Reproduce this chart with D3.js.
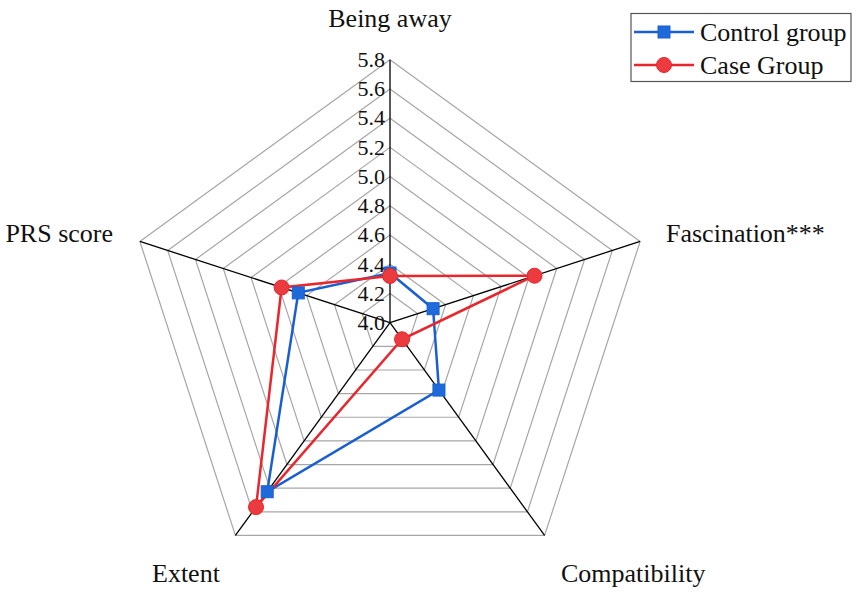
<!DOCTYPE html>
<html>
<head>
<meta charset="utf-8">
<script src="https://cdn.jsdelivr.net/npm/d3@7/dist/d3.min.js"></script>
<style>
  body { margin: 0; background: #fff; }
</style>
</head>
<body>
<div id="chart"></div>
<script>
var axesNames = ["Being away", "Fascination***", "Compatibility", "Extent", "PRS score"]
var controlGroup = [4.34, 4.31, 4.57, 5.43, 4.66]
var caseGroup = [4.32, 5.04, 4.14, 5.56, 4.78]
var tickValues = [4.0, 4.2, 4.4, 4.6, 4.8, 5.0, 5.2, 5.4, 5.6, 5.8]

var width = 857, height = 594
var cx = 390, cy = 322.7, R = 263
var serif = "'Liberation Serif', 'Times New Roman', 'DejaVu Serif', serif"

var svg = d3.select("#chart").append("svg")
  .attr("width", width)
  .attr("height", height)
  .attr("font-family", serif)

var r = d3.scaleLinear().domain([4.0, 5.8]).range([0, R])
var angle = d3.scaleLinear().domain([0, axesNames.length]).range([0, 2 * Math.PI])

function pt(i, v) {
  var a = angle(i)
  return [cx + r(v) * Math.sin(a), cy - r(v) * Math.cos(a)]
}

// grid rings
tickValues.slice(1).forEach(function(t) {
  svg.append("polygon")
    .attr("points", axesNames.map(function(d, i) { return pt(i, t).join(",") }).join(" "))
    .attr("fill", "none")
    .attr("stroke", "#a6a6a6")
    .attr("stroke-width", 1.2)
})

// spokes
axesNames.forEach(function(d, i) {
  var p = pt(i, 5.8)
  svg.append("line")
    .attr("x1", cx).attr("y1", cy)
    .attr("x2", p[0]).attr("y2", p[1])
    .attr("stroke", "#000")
    .attr("stroke-width", 1.3)
})

// tick labels
svg.selectAll(".tick")
  .data(tickValues)
  .enter().append("text")
  .attr("x", cx - 5)
  .attr("y", function(d) { return cy - r(d) })
  .attr("dy", "0.33em")
  .attr("text-anchor", "end")
  .attr("font-size", 22)
  .attr("fill", "#111")
  .text(function(d) { return d.toFixed(1) })

// axis labels
var labelPos = [
  { x: 390, y: 27, anchor: "middle" },
  { x: 666, y: 242, anchor: "start" },
  { x: 561, y: 582, anchor: "start" },
  { x: 152, y: 582, anchor: "start" },
  { x: 113, y: 242, anchor: "end" }
]
axesNames.forEach(function(d, i) {
  svg.append("text")
    .attr("x", labelPos[i].x)
    .attr("y", labelPos[i].y)
    .attr("text-anchor", labelPos[i].anchor)
    .attr("font-size", 26)
    .attr("fill", "#111")
    .text(d)
})

var line = d3.line().curve(d3.curveLinearClosed)

function series(values, color) {
  svg.append("path")
    .attr("d", line(values.map(function(v, i) { return pt(i, v) })))
    .attr("fill", "none")
    .attr("stroke", color)
    .attr("stroke-width", 2.5)
}

series(controlGroup, "#1a5fd2")
series(caseGroup, "#e8262b")

svg.selectAll(".sq")
  .data(controlGroup)
  .enter().append("rect")
  .attr("x", function(d, i) { return pt(i, d)[0] - 6 })
  .attr("y", function(d, i) { return pt(i, d)[1] - 6 })
  .attr("width", 12).attr("height", 12)
  .attr("fill", "#1e6ad8")
  .attr("stroke", "#1a5fd2")

svg.selectAll(".dot")
  .data(caseGroup)
  .enter().append("circle")
  .attr("cx", function(d, i) { return pt(i, d)[0] })
  .attr("cy", function(d, i) { return pt(i, d)[1] })
  .attr("r", 7.5)
  .attr("fill", "#ec3b3f")
  .attr("stroke", "#e8262b")

// legend
var lg = svg.append("g")
lg.append("rect")
  .attr("x", 631).attr("y", 13.5)
  .attr("width", 220).attr("height", 68)
  .attr("fill", "#fff")
  .attr("stroke", "#555")
  .attr("stroke-width", 1.2)
lg.append("line").attr("x1", 634).attr("x2", 694).attr("y1", 32).attr("y2", 32)
  .attr("stroke", "#1a5fd2").attr("stroke-width", 2.5)
lg.append("rect").attr("x", 658).attr("y", 26).attr("width", 12).attr("height", 12)
  .attr("fill", "#1e6ad8").attr("stroke", "#1a5fd2")
lg.append("text").attr("x", 700).attr("y", 41).attr("font-size", 26).attr("fill", "#111").text("Control group")
lg.append("line").attr("x1", 634).attr("x2", 694).attr("y1", 65).attr("y2", 65)
  .attr("stroke", "#e8262b").attr("stroke-width", 2.5)
lg.append("circle").attr("cx", 664).attr("cy", 65).attr("r", 7.5)
  .attr("fill", "#ec3b3f").attr("stroke", "#e8262b")
lg.append("text").attr("x", 700).attr("y", 74).attr("font-size", 26).attr("fill", "#111").text("Case Group")
</script>
</body>
</html>
